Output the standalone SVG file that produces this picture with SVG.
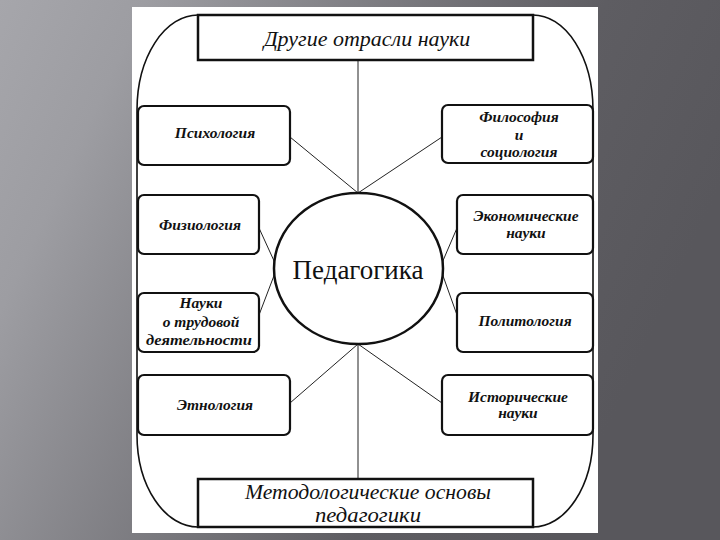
<svg xmlns="http://www.w3.org/2000/svg" width="720" height="540" viewBox="0 0 720 540">
<defs>
<linearGradient id="bg" x1="0" y1="0" x2="1" y2="0.35">
<stop offset="0" stop-color="#a6a6ab"/>
<stop offset="0.18" stop-color="#9d9da2"/>
<stop offset="0.75" stop-color="#5e5d62"/>
<stop offset="1" stop-color="#58575c"/>
</linearGradient>
<style>
.box{fill:#fff;stroke:#111;stroke-width:2.2}
.hdr{fill:#fff;stroke:#111;stroke-width:2.5}
.ln{stroke:#222;stroke-width:1;fill:none}
.t{font-family:"Liberation Serif",serif;font-style:italic;font-weight:bold;font-size:15.5px;fill:#111;text-anchor:middle}
.th{font-family:"Liberation Serif",serif;font-style:italic;font-size:22px;fill:#111;text-anchor:middle}
.tc{font-family:"Liberation Serif",serif;font-size:27px;fill:#111;text-anchor:middle}
</style>
</defs>
<rect width="720" height="540" fill="url(#bg)"/>
<rect x="132" y="7" width="466" height="526" fill="#fff"/>
<path id="outer" d="M198,15 H533 A60,95 0 0 1 593,110 V435 A60,92 0 0 1 533,527 H198 A61,92 0 0 1 137,435 V110 A61,95 0 0 1 198,15 Z" fill="none" stroke="#111" stroke-width="1.6"/>
<g id="connectors">
<line class="ln" x1="358" y1="60" x2="358" y2="193"/>
<line class="ln" x1="358" y1="344" x2="358" y2="479"/>
<line class="ln" x1="290" y1="137" x2="358" y2="193"/>
<line class="ln" x1="442" y1="137" x2="358" y2="193"/>
<line class="ln" x1="259" y1="228" x2="275" y2="263"/>
<line class="ln" x1="457" y1="228" x2="442" y2="263"/>
<line class="ln" x1="259" y1="315" x2="275" y2="273"/>
<line class="ln" x1="457" y1="315" x2="442" y2="273"/>
<line class="ln" x1="290" y1="403" x2="358" y2="344"/>
<line class="ln" x1="442" y1="403" x2="358" y2="344"/>
</g>
<g id="top">
<rect class="hdr" x="198" y="15" width="335" height="45"/>
<text class="th" x="367" y="46">Другие отрасли науки</text>
</g>
<g id="bottom">
<rect class="hdr" x="198" y="479" width="335" height="48"/>
<text class="th" x="368" y="499" font-size="20" textLength="246" lengthAdjust="spacingAndGlyphs">Методологические основы</text>
<text class="th" x="368" y="522" font-size="20" textLength="106" lengthAdjust="spacingAndGlyphs">педагогики</text>
</g>
<g id="center">
<ellipse cx="358.5" cy="268.5" rx="84.5" ry="75.5" fill="#fff" stroke="#111" stroke-width="2.5"/>
<text class="tc" x="358" y="279">Педагогика</text>
</g>
<g id="psych">
<rect class="box" x="138" y="106" width="152" height="59" rx="6"/>
<text class="t" x="215" y="138">Психология</text>
</g>
<g id="phys">
<rect class="box" x="138" y="195" width="121" height="59" rx="6"/>
<text class="t" x="200" y="230">Физиология</text>
</g>
<g id="labor">
<rect class="box" x="138" y="293" width="121" height="59" rx="6"/>
<text class="t" x="201" y="308">Науки</text>
<text class="t" x="201" y="327">о трудовой</text>
<text class="t" x="199" y="345" textLength="106" lengthAdjust="spacingAndGlyphs">деятельности</text>
</g>
<g id="ethn">
<rect class="box" x="138" y="375" width="152" height="60" rx="6"/>
<text class="t" x="215" y="410">Этнология</text>
</g>
<g id="philo">
<rect class="box" x="442" y="105" width="151" height="58" rx="6"/>
<text class="t" x="519" y="122">Философия</text>
<text class="t" x="519" y="140">и</text>
<text class="t" x="519" y="157">социология</text>
</g>
<g id="econ">
<rect class="box" x="457" y="195" width="136" height="59" rx="6"/>
<text class="t" x="526" y="221">Экономические</text>
<text class="t" x="526" y="238">науки</text>
</g>
<g id="polit">
<rect class="box" x="457" y="293" width="136" height="59" rx="6"/>
<text class="t" x="525" y="326">Политология</text>
</g>
<g id="hist">
<rect class="box" x="442" y="375" width="151" height="60" rx="6"/>
<text class="t" x="518" y="402">Исторические</text>
<text class="t" x="518" y="418">науки</text>
</g>
</svg>
